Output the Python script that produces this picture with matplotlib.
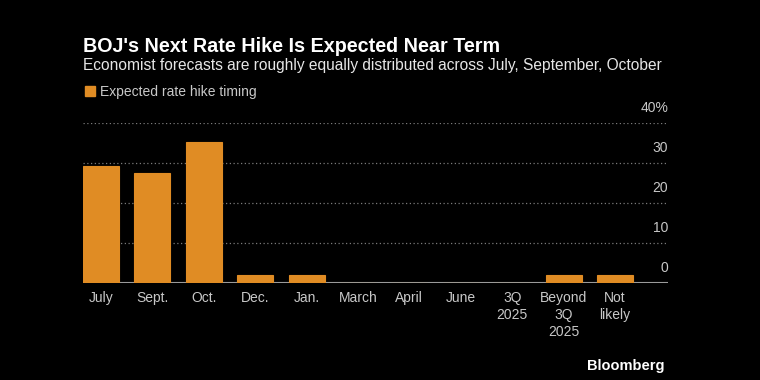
import numpy as np
import matplotlib
matplotlib.use("Agg")
import matplotlib.pyplot as plt
from matplotlib.patches import Rectangle

# Share of economists (%) expecting the next BOJ hike in each period
categories = ["July", "Sept.", "Oct.", "Dec.", "Jan.", "March", "April", "June",
              "3Q\n2025", "Beyond\n3Q\n2025", "Not\nlikely"]
shares = [29.4, 27.5, 35.3, 2.0, 2.0, 0.0, 0.0, 0.0, 0.0, 2.0, 2.0]
y_ticks = [0, 10, 20, 30, 40]
y_tick_labels = ["0", "10", "20", "30", "40%"]

BG = "black"
ORANGE = "#e08c24"
GRID = "#7a7a7a"
LABEL = "#c8c8c8"

plt.rcParams["font.family"] = ["Liberation Sans", "DejaVu Sans"]

fig = plt.figure(figsize=(7.6, 3.8), dpi=100, facecolor=BG)
ax = fig.add_axes([0.109, 0.255, 0.77, 0.421], facecolor=BG)

x = np.arange(len(categories))
ax.bar(x, shares, width=0.70, color=ORANGE, edgecolor=ORANGE, linewidth=0.8, zorder=3)

ax.set_xlim(-0.35, 11.03)
ax.set_ylim(0, 40)

# dotted gridlines with labels sitting above them on the right
for v, lab in zip(y_ticks, y_tick_labels):
    if v == 0:
        ax.axhline(v, color="#9a9a9a", lw=1.5, zorder=2)
    else:
        ax.axhline(v, color=GRID, lw=0.9, ls=(0, (1, 2)), zorder=1)
    ax.text(1.0, v + 2.0, lab, transform=ax.get_yaxis_transform(),
            ha="right", va="bottom", color=LABEL, fontsize=10)

ax.set_yticks([])
ax.set_xticks(x)
ax.set_xticklabels(categories, color=LABEL, fontsize=10, linespacing=1.25)
ax.tick_params(axis="x", length=0, pad=6)
for s in ax.spines.values():
    s.set_visible(False)

fig.text(0.109, 0.878, "BOJ's Next Rate Hike Is Expected Near Term",
         color="white", fontsize=14.2, fontweight="bold", va="center")
fig.text(0.109, 0.828,
         "Economist forecasts are roughly equally distributed across July, September, October",
         color="#e6e6e6", fontsize=11.18, va="center")

# legend
fig.patches.append(Rectangle((0.112, 0.748), 0.0125, 0.025, transform=fig.transFigure,
                             color=ORANGE))
fig.text(0.131, 0.759, "Expected rate hike timing", color=LABEL, fontsize=10, va="center")

fig.text(0.874, 0.036, "Bloomberg", color="white", fontsize=10.5,
         fontweight="bold", ha="right", va="center")

fig.savefig("out.png", dpi=100, facecolor=BG)
